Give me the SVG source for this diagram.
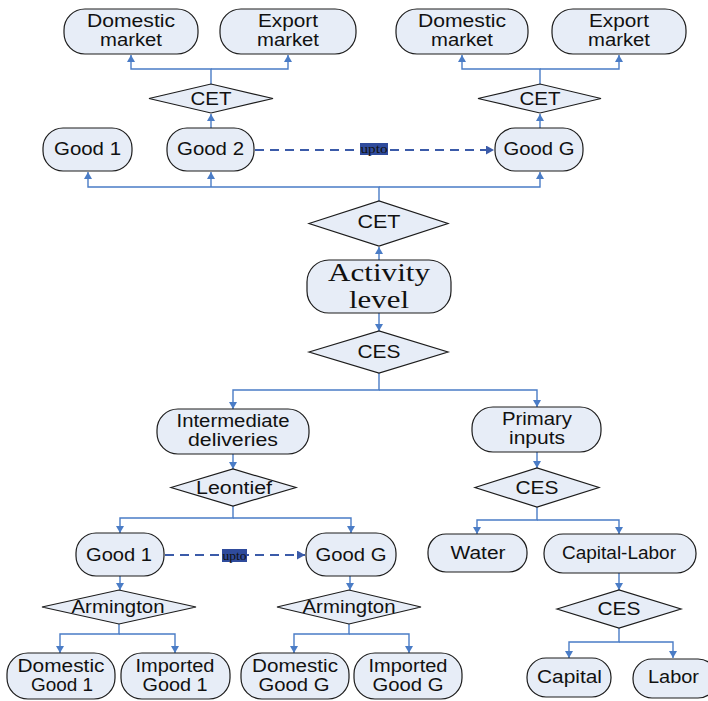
<svg xmlns="http://www.w3.org/2000/svg" width="708" height="701" viewBox="0 0 708 701">
<style>
.n{fill:#E7EDF7;stroke:#1c1c1c;stroke-width:1.2}
.t{font-family:"Liberation Sans",Arial,sans-serif;font-size:17.5px;fill:#111;text-anchor:middle}
.ts{font-family:"Liberation Serif","Times New Roman",serif;font-size:26px;fill:#111;text-anchor:middle}
.c{fill:none;stroke:#4A7CC6;stroke-width:1.4}
.d{fill:none;stroke:#3B5BA9;stroke-width:2;stroke-dasharray:9,6}
.u{fill:#2F4B9C}
.ut{font-family:"Liberation Serif","Times New Roman",serif;font-size:12px;fill:#111;text-anchor:middle}
</style>
<defs>
<marker id="a" markerUnits="userSpaceOnUse" markerWidth="9" markerHeight="9" refX="7" refY="4" orient="auto"><path d="M0,0 L7,4 L0,8 z" fill="#4A7CC6"/></marker>
<marker id="ad" markerUnits="userSpaceOnUse" markerWidth="10" markerHeight="10" refX="8" refY="4.5" orient="auto"><path d="M0,0 L8,4.5 L0,9 z" fill="#3B5BA9"/></marker>
</defs>
<g id="connectors">
<path class="c" d="M211 84 V69 H131 V55" marker-end="url(#a)"/>
<path class="c" d="M211 69 H288 V55" marker-end="url(#a)"/>
<path class="c" d="M211 128 V114" marker-end="url(#a)"/>
<path class="c" d="M540 84 V69 H462 V55" marker-end="url(#a)"/>
<path class="c" d="M540 69 H619 V55" marker-end="url(#a)"/>
<path class="c" d="M540 128 V114" marker-end="url(#a)"/>
<path class="c" d="M379 201 V187 H88 V172" marker-end="url(#a)"/>
<path class="c" d="M211 187 V172" marker-end="url(#a)"/>
<path class="c" d="M379 187 H540 V172" marker-end="url(#a)"/>
<path class="c" d="M379 260 V247" marker-end="url(#a)"/>
<path class="c" d="M379 313 V331" marker-end="url(#a)"/>
<path class="c" d="M379 373 V390 H233 V409" marker-end="url(#a)"/>
<path class="c" d="M379 390 H537 V407" marker-end="url(#a)"/>
<path class="c" d="M233 454 V469" marker-end="url(#a)"/>
<path class="c" d="M233 506 V518 H120 V533" marker-end="url(#a)"/>
<path class="c" d="M233 518 H351 V533" marker-end="url(#a)"/>
<path class="c" d="M537 452 V468" marker-end="url(#a)"/>
<path class="c" d="M537 507 V520 H477 V534" marker-end="url(#a)"/>
<path class="c" d="M537 520 H619 V534" marker-end="url(#a)"/>
<path class="c" d="M120 576 V590" marker-end="url(#a)"/>
<path class="c" d="M350 576 V590" marker-end="url(#a)"/>
<path class="c" d="M119 624 V634 H60 V653" marker-end="url(#a)"/>
<path class="c" d="M119 634 H175 V653" marker-end="url(#a)"/>
<path class="c" d="M349 624 V634 H294 V653" marker-end="url(#a)"/>
<path class="c" d="M349 634 H409 V653" marker-end="url(#a)"/>
<path class="c" d="M619 573 V590" marker-end="url(#a)"/>
<path class="c" d="M619 628 V642 H569 V658" marker-end="url(#a)"/>
<path class="c" d="M619 642 H673 V658" marker-end="url(#a)"/>
<path class="d" d="M255 150 H494" marker-end="url(#ad)"/>
<path class="d" d="M165 555 H305" marker-end="url(#ad)"/>
<rect class="u" x="360" y="143" width="28" height="12"/>
<text class="ut" x="374" y="153" textLength="27" lengthAdjust="spacingAndGlyphs">upto</text>
<rect class="u" x="222" y="549" width="25" height="13"/>
<text class="ut" x="234.5" y="559.5" textLength="24" lengthAdjust="spacingAndGlyphs">upto</text>
</g>
<g id="dm1"><rect class="n" x="64" y="9" width="134" height="45" rx="21"/><text class="t" x="131" y="27" textLength="88" lengthAdjust="spacingAndGlyphs">Domestic</text><text class="t" x="131" y="46" textLength="62" lengthAdjust="spacingAndGlyphs">market</text></g>
<g id="em1"><rect class="n" x="220" y="9" width="136" height="45" rx="21"/><text class="t" x="288" y="27" textLength="60" lengthAdjust="spacingAndGlyphs">Export</text><text class="t" x="288" y="46" textLength="62" lengthAdjust="spacingAndGlyphs">market</text></g>
<g id="dm2"><rect class="n" x="396" y="9" width="132" height="45" rx="21"/><text class="t" x="462" y="27" textLength="88" lengthAdjust="spacingAndGlyphs">Domestic</text><text class="t" x="462" y="46" textLength="62" lengthAdjust="spacingAndGlyphs">market</text></g>
<g id="em2"><rect class="n" x="552" y="9" width="134" height="45" rx="21"/><text class="t" x="619" y="27" textLength="60" lengthAdjust="spacingAndGlyphs">Export</text><text class="t" x="619" y="46" textLength="62" lengthAdjust="spacingAndGlyphs">market</text></g>
<g id="cet1"><polygon class="n" points="149,98.5 211,84 273,98.5 211,113"/><text class="t" x="211" y="104.5" textLength="41" lengthAdjust="spacingAndGlyphs">CET</text></g>
<g id="cet2"><polygon class="n" points="478,98.5 540,84 601,98.5 540,113"/><text class="t" x="540" y="104.5" textLength="41" lengthAdjust="spacingAndGlyphs">CET</text></g>
<g id="good1"><rect class="n" x="43" y="128" width="89" height="43" rx="20"/><text class="t" x="87.5" y="155" textLength="67" lengthAdjust="spacingAndGlyphs">Good 1</text></g>
<g id="good2"><rect class="n" x="167" y="128" width="87" height="43" rx="20"/><text class="t" x="210.5" y="155" textLength="67" lengthAdjust="spacingAndGlyphs">Good 2</text></g>
<g id="goodG"><rect class="n" x="495" y="128" width="88" height="43" rx="20"/><text class="t" x="539" y="155" textLength="71" lengthAdjust="spacingAndGlyphs">Good G</text></g>
<g id="cetMid"><polygon class="n" points="309,223.5 379,201 448,223.5 379,246"/><text class="t" x="379" y="228" textLength="43" lengthAdjust="spacingAndGlyphs">CET</text></g>
<g id="activity"><rect class="n" x="307" y="260" width="144" height="53" rx="22"/><text class="ts" x="379" y="281" textLength="102" lengthAdjust="spacingAndGlyphs">Activity</text><text class="ts" x="379" y="308" textLength="60" lengthAdjust="spacingAndGlyphs">level</text></g>
<g id="cesMid"><polygon class="n" points="309,352 379,331 448,352 379,373"/><text class="t" x="379" y="358" textLength="43" lengthAdjust="spacingAndGlyphs">CES</text></g>
<g id="intermediate"><rect class="n" x="157" y="409" width="152" height="45" rx="21"/><text class="t" x="233" y="427" textLength="113" lengthAdjust="spacingAndGlyphs">Intermediate</text><text class="t" x="233" y="446" textLength="90" lengthAdjust="spacingAndGlyphs">deliveries</text></g>
<g id="leontief"><polygon class="n" points="171,487.5 233,469 296,487.5 233,506"/><text class="t" x="234" y="494" textLength="76" lengthAdjust="spacingAndGlyphs">Leontief</text></g>
<g id="primary"><rect class="n" x="472" y="407" width="129" height="45" rx="21"/><text class="t" x="537" y="425" textLength="70" lengthAdjust="spacingAndGlyphs">Primary</text><text class="t" x="537" y="444" textLength="56" lengthAdjust="spacingAndGlyphs">inputs</text></g>
<g id="cesRight"><polygon class="n" points="475,487.5 537,468 599,487.5 537,507"/><text class="t" x="537" y="494" textLength="43" lengthAdjust="spacingAndGlyphs">CES</text></g>
<g id="good1b"><rect class="n" x="76" y="533" width="88" height="43" rx="20"/><text class="t" x="119" y="561" textLength="66" lengthAdjust="spacingAndGlyphs">Good 1</text></g>
<g id="goodGb"><rect class="n" x="306" y="533" width="90" height="43" rx="20"/><text class="t" x="351" y="561" textLength="71" lengthAdjust="spacingAndGlyphs">Good G</text></g>
<g id="water"><rect class="n" x="428" y="534" width="99" height="38" rx="18"/><text class="t" x="478" y="559" textLength="55" lengthAdjust="spacingAndGlyphs">Water</text></g>
<g id="capitalLabor"><rect class="n" x="544" y="534" width="152" height="39" rx="19"/><text class="t" x="619" y="559" textLength="114" lengthAdjust="spacingAndGlyphs">Capital-Labor</text></g>
<g id="armL"><polygon class="n" points="42,607 119,590 196,607 119,624"/><text class="t" x="118" y="613" textLength="93" lengthAdjust="spacingAndGlyphs">Armington</text></g>
<g id="armR"><polygon class="n" points="277,607 349,590 421,607 349,624"/><text class="t" x="349" y="613" textLength="93" lengthAdjust="spacingAndGlyphs">Armington</text></g>
<g id="cesLow"><polygon class="n" points="557,609 619,590 681,609 619,628"/><text class="t" x="619" y="615" textLength="43" lengthAdjust="spacingAndGlyphs">CES</text></g>
<g id="dg1"><rect class="n" x="7" y="653" width="108" height="46" rx="21"/><text class="t" x="61" y="672" textLength="87" lengthAdjust="spacingAndGlyphs">Domestic</text><text class="t" x="62" y="691" textLength="62" lengthAdjust="spacingAndGlyphs">Good 1</text></g>
<g id="ig1"><rect class="n" x="121" y="653" width="109" height="46" rx="21"/><text class="t" x="175" y="672" textLength="79" lengthAdjust="spacingAndGlyphs">Imported</text><text class="t" x="175" y="691" textLength="65" lengthAdjust="spacingAndGlyphs">Good 1</text></g>
<g id="dgG"><rect class="n" x="241" y="653" width="108" height="46" rx="21"/><text class="t" x="295" y="672" textLength="86" lengthAdjust="spacingAndGlyphs">Domestic</text><text class="t" x="294" y="691" textLength="71" lengthAdjust="spacingAndGlyphs">Good G</text></g>
<g id="igG"><rect class="n" x="354" y="653" width="108" height="46" rx="21"/><text class="t" x="408" y="672" textLength="79" lengthAdjust="spacingAndGlyphs">Imported</text><text class="t" x="408" y="691" textLength="71" lengthAdjust="spacingAndGlyphs">Good G</text></g>
<g id="capital"><rect class="n" x="527" y="658" width="84" height="39" rx="19"/><text class="t" x="569.5" y="683" textLength="65" lengthAdjust="spacingAndGlyphs">Capital</text></g>
<g id="labor"><rect class="n" x="633" y="659" width="84" height="39" rx="19"/><text class="t" x="673.5" y="683" textLength="51" lengthAdjust="spacingAndGlyphs">Labor</text></g>
</svg>
